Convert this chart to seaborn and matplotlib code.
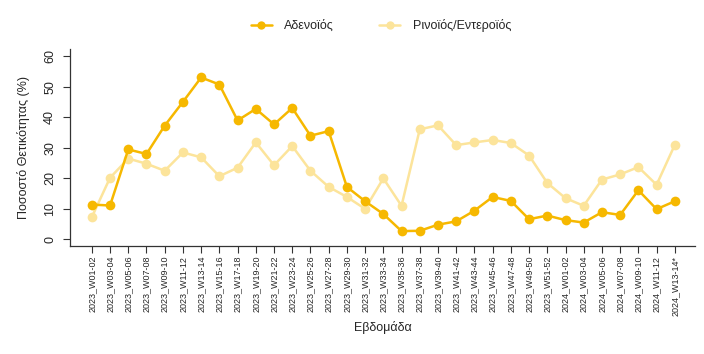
import matplotlib
matplotlib.use("Agg")
import matplotlib.pyplot as plt
import seaborn as sns
import pandas as pd
from matplotlib.lines import Line2D

weeks = [
    "2023_W01-02", "2023_W03-04", "2023_W05-06", "2023_W07-08", "2023_W09-10",
    "2023_W11-12", "2023_W13-14", "2023_W15-16", "2023_W17-18", "2023_W19-20",
    "2023_W21-22", "2023_W23-24", "2023_W25-26", "2023_W27-28", "2023_W29-30",
    "2023_W31-32", "2023_W33-34", "2023_W35-36", "2023_W37-38", "2023_W39-40",
    "2023_W41-42", "2023_W43-44", "2023_W45-46", "2023_W47-48", "2023_W49-50",
    "2023_W51-52", "2024_W01-02", "2024_W03-04", "2024_W05-06", "2024_W07-08",
    "2024_W09-10", "2024_W11-12", "2024_W13-14*",
]
adeno = [11.4, 11.1, 29.5, 28.0, 37.3, 45.1, 53.1, 50.8, 39.0, 42.8, 37.7, 43.1,
         34.0, 35.5, 17.2, 12.5, 8.3, 2.7, 2.8, 4.8, 5.9, 9.4, 13.9, 12.6, 6.6,
         7.8, 6.3, 5.5, 8.9, 8.0, 16.1, 9.9, 12.5]
rhino = [7.3, 20.2, 26.5, 24.8, 22.5, 28.5, 26.9, 20.7, 23.5, 31.8, 24.3, 30.6,
         22.5, 17.2, 13.9, 10.0, 20.0, 11.0, 36.1, 37.4, 30.9, 31.8, 32.6, 31.6,
         27.5, 18.5, 13.5, 11.0, 19.6, 21.3, 23.7, 17.9, 31.0]
series_names = ["Αδενοϊός", "Ρινοϊός/Εντεροϊός"]
colors = ["#F6B800", "#FCE49B"]

df = pd.concat([
    pd.DataFrame({"week": weeks, "value": adeno, "virus": series_names[0]}),
    pd.DataFrame({"week": weeks, "value": rhino, "virus": series_names[1]}),
])

sns.set_style("white")
plt.rcParams["font.family"] = ["Liberation Sans", "DejaVu Sans"]

fig = plt.figure(figsize=(7.04, 3.54), dpi=100)
ax = fig.add_axes([0.0994, 0.305, 0.8876, 0.557])

sns.lineplot(data=df, x="week", y="value", hue="virus", hue_order=series_names[::-1],
             palette=dict(zip(series_names, colors)), marker="o", markersize=7,
             markeredgewidth=0, linewidth=1.8, sort=False, ax=ax, legend=False)

ax.set_xlim(-1.2, len(weeks) - 1 + 1.1)
ax.set_ylim(-2.2, 62.5)
ax.set_yticks([0, 10, 20, 30, 40, 50, 60])
ax.set_xticks(range(len(weeks)))
ax.set_xticklabels(weeks, rotation=90, fontsize=6.5)
for lab in ax.get_yticklabels():
    lab.set_rotation(90)
    lab.set_va("center")
ax.tick_params(axis="y", labelsize=9, length=5, width=0.8, color="#333333", pad=5)
ax.tick_params(axis="x", length=5, width=0.8, color="#333333", pad=2)
ax.tick_params(left=True, bottom=True)
for s in ["top", "right"]:
    ax.spines[s].set_visible(False)
for s in ["left", "bottom"]:
    ax.spines[s].set_color("#333333")
    ax.spines[s].set_linewidth(0.9)
ax.set_xlabel("Εβδομάδα", fontsize=9, labelpad=4)
ax.set_ylabel("Ποσοστό Θετικότητας (%)", fontsize=9, labelpad=10)
ax.grid(False)

handles = [Line2D([], [], color=c, marker="o", markersize=6, markeredgewidth=0, linewidth=1.8)
           for c in colors]
fig.legend(handles, series_names, loc="center", bbox_to_anchor=(0.541, 0.928), ncol=2,
           frameon=False, fontsize=9, columnspacing=3.6, handlelength=1.7, handletextpad=1.0)

fig.savefig("out.png", dpi=100)
